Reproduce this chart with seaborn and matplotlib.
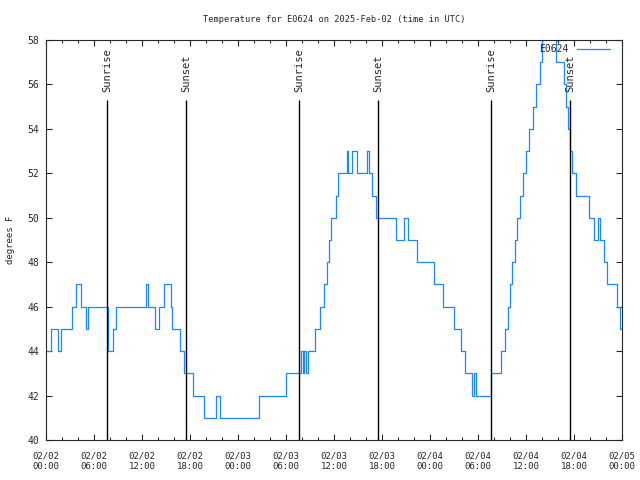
import pandas as pd
import matplotlib
matplotlib.use('Agg')
import matplotlib.pyplot as plt
import matplotlib.dates as mdates
import seaborn as sns

# step data: hours after 2025-02-02 00:00 UTC and temperature (F) from that time on
hours = [0, 0.6, 1.5, 1.9, 3.2, 3.7, 4.0, 4.4, 4.7, 5.0, 5.3,
         7.7, 7.8, 8.4, 8.8, 12.5, 12.7, 13.6, 14.1, 14.5, 14.8,
         15.6, 15.8, 16.8, 17.0, 17.3, 18.4, 19.7, 21.2, 21.7,
         26.6, 30.0, 31.9, 32.1, 32.3, 32.5, 32.7, 33.6, 34.3, 34.8,
         35.1, 35.35, 35.6, 36.2, 36.5, 37.6, 37.8, 38.3, 38.9, 40.1,
         40.4, 40.8, 41.2, 43.8, 44.8, 45.3, 46.4, 48.5, 49.6, 51.0,
         51.9, 52.4, 53.3, 53.5, 53.7, 55.6, 56.9, 57.4, 57.7, 58.0,
         58.3, 58.6, 58.9, 59.2, 59.6, 60.0, 60.4, 60.9, 61.3, 61.7,
         62.0, 62.2, 63.7, 64.8, 65.0, 65.3, 65.55, 65.8, 66.2, 67.9,
         68.5, 69.0, 69.2, 69.8, 70.1, 71.4, 71.8, 72.0]
temps = [44, 45, 44, 45, 46, 47, 47, 46, 46, 45, 46,
         45, 44, 45, 46, 47, 46, 45, 46, 46, 47,
         46, 45, 44, 44, 43, 42, 41, 42, 41,
         42, 43, 44, 43, 44, 43, 44, 45, 46, 47,
         48, 49, 50, 51, 52, 53, 52, 53, 52, 53,
         52, 51, 50, 49, 50, 49, 48, 47, 46, 45,
         44, 43, 42, 43, 42, 43, 44, 45, 46, 47,
         48, 49, 50, 51, 52, 53, 54, 55, 56, 57,
         58, 59, 57, 56, 55, 54, 53, 52, 51, 50,
         49, 50, 49, 48, 47, 46, 45, 45]

# sunrise / sunset times (hours after start)
event_hours = [7.62, 17.5, 31.62, 41.5, 55.62, 65.5]
event_names = ['Sunrise', 'Sunset', 'Sunrise', 'Sunset', 'Sunrise', 'Sunset']

start = pd.Timestamp('2025-02-02 00:00')
df = pd.DataFrame({'time': start + pd.to_timedelta(hours, unit='h'), 'temp': temps})
events = start + pd.to_timedelta(event_hours, unit='h')

sns.set_style('ticks')
plt.rcParams['font.family'] = ['DejaVu Sans Mono']
plt.rcParams['font.size'] = 6.5

fig = plt.figure(figsize=(6.4, 4.8), dpi=100)
ax = fig.add_axes([0.0719, 0.0833, 0.9, 0.8334])

sns.lineplot(data=df, x='time', y='temp', ax=ax, color='#1a86ff', linewidth=0.9,
             drawstyle='steps-post', label='E0624')

ax.vlines(events, 40, 55.3, color='black', linewidth=1.0, zorder=5)
for t, name in zip(events, event_names):
    ax.text(t, 55.65, name, rotation=90, ha='center', va='bottom', fontsize=7.5)

ax.set_xlim(start, start + pd.Timedelta(hours=72))
ax.set_ylim(40, 58)
ax.set_yticks(range(40, 59, 2))
ax.xaxis.set_major_locator(mdates.HourLocator(byhour=[0, 6, 12, 18]))
ax.xaxis.set_minor_locator(mdates.HourLocator(interval=2))
ax.xaxis.set_major_formatter(mdates.DateFormatter('%m/%d\n%H:%M'))
ax.tick_params(which='both', direction='in', top=True, right=True, width=0.8)
ax.tick_params(which='major', length=4.5)
ax.tick_params(which='minor', length=2.5)
ax.tick_params(axis='x', pad=8, labelsize=6.5)
ax.tick_params(axis='y', pad=5, labelsize=7)
for s in ax.spines.values():
    s.set_linewidth(0.8)

ax.set_xlabel('')
ax.set_ylabel('degrees F', fontsize=6.5, labelpad=9)
ax.set_title('Temperature for E0624 on 2025-Feb-02 (time in UTC)', fontsize=6.2, pad=13)
ax.legend(loc='upper right', frameon=False, markerfirst=False, handlelength=3.4,
          handletextpad=0.9, fontsize=7, bbox_to_anchor=(0.99, 1.004), borderaxespad=0.2)

fig.savefig('out.png', dpi=100)
